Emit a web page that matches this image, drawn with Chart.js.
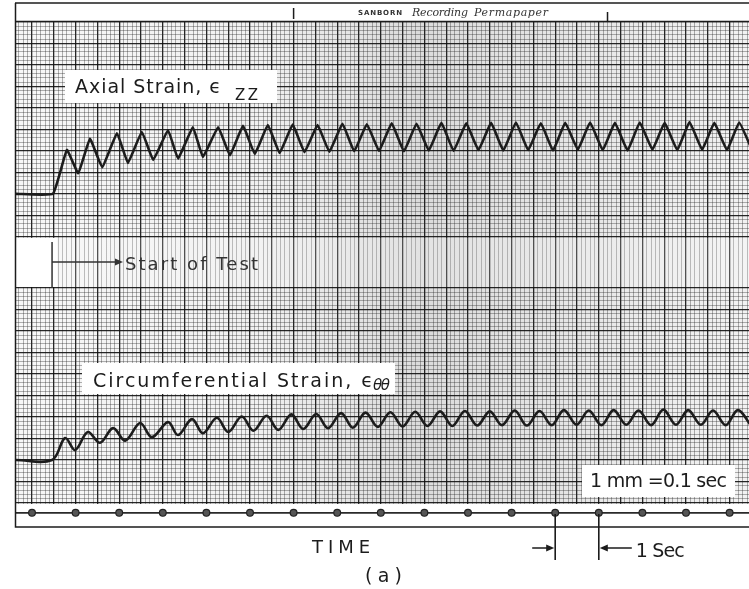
<!DOCTYPE html>
<html>
<head>
<meta charset="utf-8">
<script src="https://cdn.jsdelivr.net/npm/chart.js@4.4.1/dist/chart.umd.min.js"></script>
<style>
  html, body { margin: 0; background: #fff; }
  canvas { display: block; }
</style>
</head>
<body>
<canvas id="strip" width="749" height="589"></canvas>
<script>
/* Sanborn strip chart — axial and circumferential strain vs time.
   x in seconds (1 mm of paper = 0.1 s), y in mm of pen deflection. */

const axialTime = [-0.37, 0.48, 0.80, 1.06, 1.33, 1.61, 1.95, 2.20, 2.52, 2.78, 3.12, 3.35, 3.69, 3.92,
  4.27, 4.54, 4.84, 5.11, 5.41, 5.68, 5.98, 6.25, 6.55, 6.82, 7.12, 7.39, 7.68, 7.96, 8.25, 8.53,
  8.82, 9.10, 9.39, 9.67, 9.96, 10.24, 10.53, 10.81, 11.10, 11.38, 11.67, 11.95, 12.23, 12.52,
  12.80, 13.09, 13.37, 13.66, 13.94, 14.23, 14.51, 14.80, 15.08, 15.37, 15.65, 15.94, 16.22, 16.51];
const axialStrain = [71.9, 71.9, 82.1, 76.7, 84.7, 78.1, 86.0, 79.1, 86.3, 79.8, 86.7, 80.1, 87.4, 80.5,
  87.4, 80.9, 87.7, 81.2, 87.9, 81.4, 88.0, 81.6, 87.9, 81.7, 88.2, 81.8, 88.1, 81.9, 88.3, 81.8,
  88.2, 82.0, 88.4, 81.9, 88.3, 82.1, 88.4, 82.0, 88.5, 82.1, 88.3, 82.0, 88.4, 82.2,
  88.5, 82.1, 88.4, 82.0, 88.5, 82.2, 88.4, 82.1, 88.6, 82.2, 88.4, 82.1, 88.5, 82.2];

const circTime = [-0.37, 0.46, 0.76, 0.99, 1.28, 1.56, 1.86, 2.14, 2.48, 2.75, 3.12, 3.35, 3.67, 3.92,
  4.24, 4.50, 4.81, 5.08, 5.38, 5.65, 5.95, 6.22, 6.52, 6.79, 7.09, 7.36, 7.65, 7.93, 8.22, 8.50,
  8.79, 9.07, 9.36, 9.64, 9.93, 10.21, 10.50, 10.78, 11.07, 11.35, 11.64, 11.92, 12.20, 12.49,
  12.77, 13.06, 13.34, 13.63, 13.91, 14.20, 14.48, 14.77, 15.05, 15.34, 15.62, 15.91, 16.19, 16.48];
const circStrain = [10.0, 10.0, 15.1, 12.3, 16.5, 14.0, 17.4, 14.5, 18.6, 15.3, 18.8, 15.8, 19.5, 16.2,
  19.8, 16.5, 20.1, 16.8, 20.3, 17.0, 20.6, 17.2, 20.7, 17.4, 20.9, 17.5, 21.0, 17.7, 21.1, 17.8,
  21.2, 17.9, 21.3, 17.9, 21.4, 18.0, 21.3, 18.1, 21.5, 18.0, 21.4, 18.1, 21.6, 18.2,
  21.5, 18.1, 21.6, 18.2, 21.5, 18.1, 21.7, 18.2, 21.6, 18.2, 21.5, 18.1, 21.6, 18.2];

const timerSeconds = [0, 1, 2, 3, 4, 5, 6, 7, 8, 9, 10, 11, 12, 13, 14, 15, 16];
const timerLevel = -2.3;
const startOfTest = 0.46;
const secMarker = [12, 13];

const INK = '#1c1c1c';
const FONT = '"DejaVu Sans", sans-serif';

// paper grid: 1 mm rulings, heavy every 5 mm; two spliced strips vertically
const xGridTicks = [];
for (let k = -3; k <= 164; k++) xGridTicks.push({ value: k / 10, heavy: k % 5 === 0 });
const yGridTicks = [];
for (let k = 0; k <= 50; k++) yGridTicks.push({ value: k, heavy: k % 5 === 0 });
for (let k = 0; k <= 50; k++) yGridTicks.push({ value: 61.9 + k, heavy: k % 5 === 0 });

const gridColor = c => (c.tick && c.tick.heavy) ? 'rgba(15,15,15,0.9)' : 'rgba(40,40,40,0.45)';
const gridWidth = c => (c.tick && c.tick.heavy) ? 1.3 : 0.8;

function fitText(ctx, str, x, y, w) {
  ctx.letterSpacing = '0px';
  const m = ctx.measureText(str).width;
  const sp = str.length > 1 ? (w - m) / (str.length - 1) : 0;
  ctx.letterSpacing = sp + 'px';
  ctx.fillText(str, x, y);
  ctx.letterSpacing = '0px';
}

function arrowHead(ctx, x, y, dir) {
  ctx.beginPath();
  ctx.moveTo(x, y);
  ctx.lineTo(x - dir * 8, y - 3.5);
  ctx.lineTo(x - dir * 8, y + 3.5);
  ctx.closePath();
  ctx.fill();
}

const paperPlugin = {
  id: 'paper',
  beforeDraw(chart) {
    const { ctx, chartArea: a } = chart;
    ctx.save();
    ctx.fillStyle = '#fff';
    ctx.fillRect(0, 0, chart.width, chart.height);
    // darker middle of the scan
    const g = ctx.createLinearGradient(a.left, 0, a.right, 0);
    g.addColorStop(0, 'rgba(0,0,0,0.03)');
    g.addColorStop(0.33, 'rgba(0,0,0,0.06)');
    g.addColorStop(0.55, 'rgba(0,0,0,0.14)');
    g.addColorStop(0.75, 'rgba(0,0,0,0.10)');
    g.addColorStop(1, 'rgba(0,0,0,0.05)');
    ctx.fillStyle = g;
    ctx.fillRect(a.left, a.top, a.right - a.left, a.bottom - a.top);
    ctx.restore();
  },
  beforeDatasetsDraw(chart) {
    const { ctx, chartArea: a, scales: { x, y } } = chart;
    ctx.save();
    // margin strip under the grid, where the timer runs
    const y0 = y.getPixelForValue(0) + 1;
    ctx.fillStyle = '#fff';
    ctx.fillRect(a.left, y0, a.right - a.left, a.bottom - y0 + 1);
    // splice between the two strips
    const top = y.getPixelForValue(61.9) + 1, bot = y.getPixelForValue(50) - 1;
    ctx.fillStyle = 'rgba(255,255,255,0.2)';
    ctx.fillRect(a.left, top, a.right - a.left, bot - top);
    ctx.fillStyle = '#fff';
    ctx.fillRect(a.left, top, x.getPixelForValue(startOfTest) + 5 - a.left, bot - top);
    ctx.restore();
  },
  afterDraw(chart) {
    const { ctx, chartArea: a, scales: { x, y } } = chart;
    ctx.save();

    // header band and paper edges
    ctx.fillStyle = '#fff';
    ctx.fillRect(a.left, 3, a.right - a.left, a.top - 3);
    ctx.strokeStyle = '#555';
    ctx.lineWidth = 2;
    ctx.beginPath(); ctx.moveTo(a.left - 1, 3); ctx.lineTo(a.right, 3); ctx.stroke();
    ctx.strokeStyle = INK;
    ctx.lineWidth = 1.5;
    ctx.beginPath();
    ctx.moveTo(a.left - 0.5, 3); ctx.lineTo(a.left - 0.5, 527); ctx.lineTo(a.right, 527);
    ctx.moveTo(a.left, a.top + 0.5); ctx.lineTo(a.right, a.top + 0.5);
    ctx.stroke();
    ctx.beginPath();
    [6, 13.2].forEach((t, i) => {
      const px = x.getPixelForValue(t);
      ctx.moveTo(px, 8 + i * 4); ctx.lineTo(px, 19 + i * 3);
    });
    ctx.stroke();
    ctx.fillStyle = '#333';
    ctx.font = 'bold 7px ' + FONT;
    fitText(ctx, 'SANBORN', 358, 15, 44);
    ctx.font = 'italic 11px "DejaVu Serif", serif';
    fitText(ctx, 'Recording', 412, 16, 56);
    fitText(ctx, 'Permapaper', 474, 16, 74);

    // label boxes
    ctx.fillStyle = '#fff';
    ctx.fillRect(65, 70, 212, 33);
    ctx.fillRect(82, 363, 313, 31);
    ctx.fillRect(582, 465, 153, 32);

    ctx.fillStyle = INK;
    ctx.font = '19px ' + FONT;
    fitText(ctx, 'Axial Strain, \u03F5', 75, 93, 146);
    ctx.font = '15px ' + FONT;
    fitText(ctx, 'ZZ', 235, 100, 23);
    ctx.font = '19px ' + FONT;
    fitText(ctx, 'Circumferential Strain, \u03F5', 93, 387, 280);
    ctx.font = 'italic 15px ' + FONT;
    fitText(ctx, '\u03B8\u03B8', 373, 390, 17);
    ctx.font = '19px ' + FONT;
    fitText(ctx, '1 mm =0.1 sec', 590, 487, 137);

    // start of test marker
    const x0 = x.getPixelForValue(startOfTest);
    ctx.strokeStyle = '#333';
    ctx.fillStyle = '#333';
    ctx.lineWidth = 1.5;
    ctx.beginPath();
    ctx.moveTo(x0, 242); ctx.lineTo(x0, 288);
    ctx.moveTo(x0, 262); ctx.lineTo(116, 262);
    ctx.stroke();
    arrowHead(ctx, 123, 262, 1);
    ctx.font = '18px ' + FONT;
    fitText(ctx, 'Start of Test', 125, 270, 133);

    // bottom captions and the one-second marker
    ctx.fillStyle = INK;
    ctx.strokeStyle = INK;
    ctx.font = '18px ' + FONT;
    fitText(ctx, 'TIME', 312, 553, 58);
    ctx.font = '19px ' + FONT;
    fitText(ctx, '( a )', 365, 582, 37);
    const xa = x.getPixelForValue(secMarker[0]), xb = x.getPixelForValue(secMarker[1]);
    ctx.lineWidth = 1.6;
    ctx.beginPath();
    ctx.moveTo(xa, 514); ctx.lineTo(xa, 560);
    ctx.moveTo(xb, 514); ctx.lineTo(xb, 560);
    ctx.moveTo(xa - 23, 548); ctx.lineTo(xa - 6, 548);
    ctx.moveTo(xb + 6, 548); ctx.lineTo(xb + 33, 548);
    ctx.stroke();
    arrowHead(ctx, xa - 1, 548, 1);
    arrowHead(ctx, xb + 1, 548, -1);
    fitText(ctx, '1 Sec', xb + 37, 557, 49);
    ctx.restore();
  }
};

new Chart(document.getElementById('strip'), {
  type: 'line',
  data: {
    datasets: [
      {
        label: 'Axial Strain',
        data: axialTime.map((t, i) => ({ x: t, y: axialStrain[i] })),
        borderColor: INK,
        borderWidth: 2.6,
        pointRadius: 0,
        tension: 0.1,
        borderJoinStyle: 'round'
      },
      {
        label: 'Circumferential Strain',
        data: circTime.map((t, i) => ({ x: t, y: circStrain[i] })),
        borderColor: INK,
        borderWidth: 2.6,
        pointRadius: 0,
        tension: 0.35,
        borderJoinStyle: 'round'
      },
      {
        label: 'Timer',
        data: [{ x: -0.367, y: timerLevel }]
          .concat(timerSeconds.map(s => ({ x: s, y: timerLevel })))
          .concat([{ x: 16.445, y: timerLevel }]),
        borderColor: '#2a2a2a',
        borderWidth: 1.6,
        pointRadius: c => (c.raw && Number.isInteger(c.raw.x)) ? 3.4 : 0,
        pointBackgroundColor: '#555',
        pointBorderColor: '#222',
        pointBorderWidth: 1.2
      }
    ]
  },
  options: {
    responsive: false,
    devicePixelRatio: 1,
    animation: false,
    layout: { padding: { left: 16, top: 21, right: 0, bottom: 71 } },
    plugins: { legend: { display: false }, tooltip: { enabled: false } },
    scales: {
      x: {
        type: 'linear',
        min: -0.367,
        max: 16.445,
        ticks: { display: false, autoSkip: false },
        border: { display: false },
        grid: { drawTicks: false, color: gridColor, lineWidth: gridWidth },
        afterBuildTicks: s => { s.ticks = xGridTicks; }
      },
      y: {
        type: 'linear',
        min: -3.5,
        max: 112.1,
        ticks: { display: false, autoSkip: false },
        border: { display: false },
        grid: { drawTicks: false, color: gridColor, lineWidth: gridWidth },
        afterBuildTicks: s => { s.ticks = yGridTicks; }
      }
    }
  },
  plugins: [paperPlugin]
});
</script>
</body>
</html>
